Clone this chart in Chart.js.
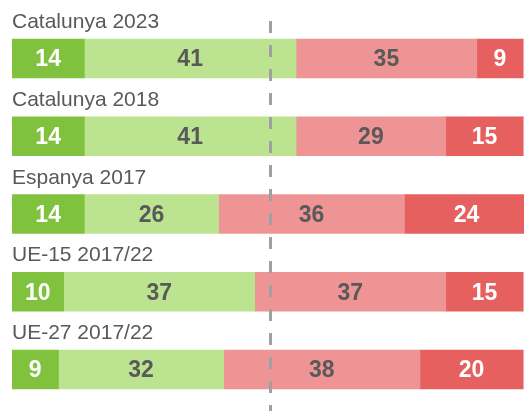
<!DOCTYPE html>
<html>
<head>
<meta charset="utf-8">
<script src="https://cdn.jsdelivr.net/npm/chart.js@4"></script>
<style>
html,body{margin:0;padding:0;background:#fff;}
canvas{display:block;}
</style>
</head>
<body>
<canvas id="c" width="524" height="411"></canvas>
<script>
const categories = ["Catalunya 2023", "Catalunya 2018", "Espanya 2017", "UE-15 2017/22", "UE-27 2017/22"];
const series1 = [14, 14, 14, 10, 9];
const series2 = [41, 41, 26, 37, 32];
const series3 = [35, 29, 36, 37, 38];
const series4 = [9, 15, 24, 15, 20];
const referenceValue = 50;

const FONT = '"Liberation Sans", Arial, sans-serif';
const colors = ["#80c13e", "#bce490", "#ee9494", "#e66060"];
const labelColors = ["#ffffff", "#595959", "#595959", "#ffffff"];

const overlay = {
  id: 'overlay',
  afterDatasetsDraw(chart) {
    const ctx = chart.ctx;
    ctx.save();
    // segment value labels
    ctx.font = 'bold 23px ' + FONT;
    ctx.textAlign = 'center';
    ctx.textBaseline = 'middle';
    chart.data.datasets.forEach((ds, di) => {
      const meta = chart.getDatasetMeta(di);
      meta.data.forEach((el, i) => {
        const cx = (el.x + el.base) / 2;
        ctx.fillStyle = labelColors[di];
        ctx.fillText(String(ds.data[i]), cx, el.y + 1.5);
      });
    });
    // category labels above bars
    ctx.font = '21px ' + FONT;
    ctx.textAlign = 'left';
    ctx.textBaseline = 'alphabetic';
    ctx.fillStyle = '#595959';
    const meta0 = chart.getDatasetMeta(0);
    meta0.data.forEach((el, i) => {
      ctx.fillText(categories[i], 12, el.y - el.height / 2 - 11);
    });
    // dashed reference line
    const x = Math.round(chart.scales.x.getPixelForValue(referenceValue)) + 0.5;
    ctx.strokeStyle = '#a0a0a0';
    ctx.lineWidth = 3;
    ctx.setLineDash([12, 12]);
    ctx.beginPath();
    ctx.moveTo(x, 21);
    ctx.lineTo(x, chart.height);
    ctx.stroke();
    ctx.restore();
  }
};

new Chart(document.getElementById('c'), {
  type: 'bar',
  data: {
    labels: categories,
    datasets: [series1, series2, series3, series4].map((d, i) => ({
      data: d,
      backgroundColor: colors[i],
      borderWidth: 0,
      barThickness: 39
    }))
  },
  options: {
    indexAxis: 'y',
    responsive: false,
    animation: false,
    layout: { padding: { left: 12, right: 0, top: 19.6, bottom: 2.6 } },
    plugins: { legend: { display: false }, tooltip: { enabled: false } },
    scales: {
      x: { stacked: true, min: 0, max: 99.15, display: false },
      y: { stacked: true, display: false }
    }
  },
  plugins: [overlay]
});
</script>
</body>
</html>
